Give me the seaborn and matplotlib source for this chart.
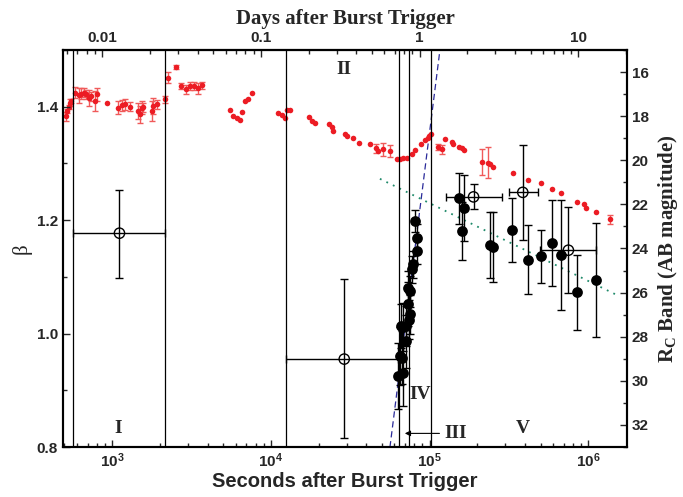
import numpy as np
import matplotlib
matplotlib.use('Agg')
import matplotlib.pyplot as plt
import matplotlib.ticker as mticker
import seaborn as sns

# Curva de luz en banda Rc (eje derecho, magnitudes AB)
red_t = [513, 519, 531, 544, 552, 585, 614, 636, 660, 686, 710, 735, 782, 808, 926,
         1096, 1151, 1208, 1298, 1465, 1500, 1538, 1574, 1778, 1820, 1911, 2158,
         2262, 2529, 2719, 2911, 3097, 3282, 3493, 3700,
         5534, 5800, 6095, 6393, 6551, 6871, 7210, 7572,
         11140, 11700, 12280, 12690, 13190,
         17450, 18070, 18970, 23230, 24150, 24720, 29270, 30270, 33030, 35850,
         42070, 45700, 47470, 50980, 56190, 61940, 64940, 68120, 71590, 76930,
         80740, 87670, 93330, 97040, 99340, 101800,
         113000, 118800, 124700, 137400, 139400, 153400, 158800, 164200, 212200,
         233600, 239300, 251100, 332600, 417100, 506100, 593400, 675800, 847700,
         933800, 971100, 1111000, 1375000]
red_mag = [18.00, 17.77, 17.59, 17.39, 17.32, 16.94, 17.06, 16.98, 16.94, 17.01, 17.17, 17.09, 17.32, 17.01, 17.42,
           17.62, 17.51, 17.46, 17.57, 17.77, 17.92, 17.62, 17.59, 17.77, 17.54, 17.46, 17.24,
           16.26, 15.77, 16.63, 16.78, 16.63, 16.63, 16.74, 16.60,
           17.74, 18.00, 18.07, 18.19, 17.81, 17.32, 17.21, 16.97,
           17.85, 17.95, 18.07, 17.74, 17.74,
           18.04, 18.22, 18.33, 18.34, 18.49, 18.68, 18.80, 18.90, 18.98, 19.21,
           19.28, 19.46, 19.58, 19.51, 19.58, 19.93, 19.93, 19.91, 19.89, 19.73,
           19.55, 19.28, 19.10, 18.98, 18.90, 18.81,
           19.40, 19.51, 19.05, 19.16, 19.25, 19.40, 19.46, 19.54, 20.07,
           20.11, 20.19, 20.31, 20.57, 20.91, 21.02, 21.32, 21.50, 21.88,
           22.00, 22.15, 22.34, 22.68]
red_err = [0.2, 0.1, 0.1, 0.15, 0.1, 0.25, 0.35, 0.25, 0.2, 0.2, 0.35, 0.2, 0.45, 0.3, 0.0,
           0.3, 0.25, 0.25, 0.2, 0.35, 0.4, 0.3, 0.2, 0.45, 0.35, 0.2, 0.15,
           0.25, 0.1, 0.15, 0.2, 0.2, 0.2, 0.25, 0.15,
           0, 0, 0, 0, 0, 0, 0, 0,
           0, 0, 0, 0, 0,
           0, 0, 0, 0, 0, 0, 0, 0, 0, 0,
           0, 0.2, 0, 0.3, 0.25, 0, 0, 0, 0, 0,
           0, 0, 0, 0, 0, 0,
           0.15, 0.2, 0, 0, 0, 0, 0, 0, 0.58,
           0.7, 0, 0, 0, 0, 0, 0, 0, 0,
           0, 0, 0, 0.2]

# Puntos negros (eje derecho)
blk_t = [63400, 64900, 65900, 66500, 68100, 68100, 70500, 70500, 73300, 73300, 74000,
         75100, 75100, 77600, 78700, 80700, 82740, 83400,
         153000, 159000, 165000, 239000, 251000, 331000, 417000, 506000, 593000,
         672000, 848000, 1110000]
blk_mag = [29.79, 28.88, 27.52, 28.96, 27.56, 29.64, 27.52, 28.21, 25.81, 26.52, 27.22,
           25.93, 26.99, 24.95, 24.72, 22.76, 23.51, 24.12,
           21.73, 23.21, 22.15, 23.85, 23.94, 23.15, 24.50, 24.36, 23.76,
           24.29, 25.99, 25.43]
blk_err = [1.5, 1.3, 1.0, 1.2, 1.1, 1.5, 0.9, 1.2, 0.8, 1.0, 0.9,
           0.7, 0.9, 0.6, 0.6, 0.5, 0.6, 0.6,
           1.15, 1.3, 1.5, 1.5, 1.6, 1.45, 1.55, 1.2, 1.95,
           2.5, 1.7, 2.6]

# Índice espectral beta (eje izquierdo)
open_t = [1112, 28970, 189000, 386000, 748000]
open_beta = [1.177, 0.955, 1.241, 1.249, 1.147]
open_tlo = [566, 12400, 126000, 314000, 494000]
open_thi = [2158, 63100, 285000, 478000, 1120000]
open_blo = [1.098, 0.815, 1.219, 1.165, 1.071]
open_bhi = [1.254, 1.096, 1.264, 1.332, 1.223]

# Límites de las fases y ajustes en ley de potencias
boundaries = [569, 2160, 12360, 63900, 74000, 101600]
steep_t0, steep_m0, steep_slope = 94900, 20.0, -57.2
steep_range = (56200, 116000)
decay_t0, decay_m0, decay_slope = 48600, 20.84, 3.53
decay_range = (48600, 1.48e6)

sns.set_theme(style='ticks')
plt.rcParams['font.family'] = ['Liberation Sans', 'DejaVu Sans']
plt.rcParams['font.weight'] = 'bold'
plt.rcParams['mathtext.fontset'] = 'custom'
plt.rcParams['mathtext.sf'] = 'Liberation Sans:bold'
plt.rcParams['mathtext.bf'] = 'Liberation Serif:bold'
plt.rcParams['mathtext.rm'] = 'Liberation Serif'
serif = ['Liberation Serif', 'DejaVu Serif']

fig = plt.figure(figsize=(6.83, 4.97), dpi=100)
ax = fig.add_axes([0.0922, 0.1006, 0.8258, 0.7988])
ax2 = ax.twinx()

ax.set_xscale('log')
ax.set_xlim(490, 1.75e6)
ax.set_ylim(0.8, 1.5)
ax2.set_ylim(33, 15)

for b in boundaries:
    ax.axvline(b, color='black', lw=0.9, zorder=1)

# ajustes
tt = np.logspace(np.log10(steep_range[0]), np.log10(steep_range[1]), 50)
ax2.plot(tt, steep_m0 + steep_slope * np.log10(tt / steep_t0), ls=(0, (5, 3)), color='#2a2a9a', lw=0.9, zorder=2)
tt = np.logspace(np.log10(decay_range[0]), np.log10(decay_range[1]), 50)
ax2.plot(tt, decay_m0 + decay_slope * np.log10(tt / decay_t0), ls=(0, (1, 3)), color='#1f8a6a', lw=1.3, zorder=2)

# curva roja
rt = np.array(red_t); rm = np.array(red_mag); re = np.array(red_err)
m = re > 0
ax2.errorbar(rt[m], rm[m], yerr=re[m], fmt='none', ecolor='#f05a5a', elinewidth=1, capsize=2, capthick=1, zorder=3)
sns.scatterplot(x=red_t, y=red_mag, ax=ax2, color='#ec1c24', s=16, linewidth=0, zorder=4, legend=False)

# puntos negros
ax2.errorbar(blk_t, blk_mag, yerr=blk_err, fmt='none', ecolor='black', elinewidth=1, capsize=3, capthick=1, zorder=5)
sns.scatterplot(x=blk_t, y=blk_mag, ax=ax2, color='black', s=60, linewidth=0, zorder=6, legend=False)

# beta
ot = np.array(open_t); ob = np.array(open_beta)
xerr = [ot - np.array(open_tlo), np.array(open_thi) - ot]
yerr = [ob - np.array(open_blo), np.array(open_bhi) - ob]
ax.errorbar(ot, ob, xerr=xerr, yerr=yerr, fmt='none', ecolor='black', elinewidth=1, capsize=3, capthick=1, zorder=5)
sns.scatterplot(x=open_t, y=open_beta, ax=ax, s=55, facecolor='none', edgecolor='black', linewidth=1, zorder=6, legend=False)
ax.set_zorder(ax2.get_zorder() + 1)
ax.patch.set_visible(False)

# etiquetas de fases
lab = dict(fontfamily=serif, fontweight='bold', fontsize=14, ha='center', va='center')
ax.text(1087, 0.833, 'I', **lab)
ax.text(28800, 1.465, 'II', **lab)
ax.text(86700, 0.892, 'IV', **lab)
ax.text(3.85e5, 0.832, 'V', **lab)
ax.text(1.23e5, 0.824, 'III', **{**lab, 'ha': 'left'})
ax.annotate('', xy=(67000, 0.824), xytext=(1.2e5, 0.824),
            arrowprops=dict(arrowstyle='-|>', color='black', lw=0.8, mutation_scale=8))

# ejes
ax.xaxis.set_major_locator(mticker.LogLocator(base=10))
ax.xaxis.set_minor_locator(mticker.LogLocator(base=10, subs=np.arange(2, 10)))
ax.xaxis.set_minor_formatter(mticker.NullFormatter())
ax.xaxis.set_major_formatter(mticker.FuncFormatter(lambda v, p: r'$\mathsf{10^{%d}}$' % round(np.log10(v))))
ax.yaxis.set_major_locator(mticker.FixedLocator([0.8, 1.0, 1.2, 1.4]))
ax.yaxis.set_minor_locator(mticker.FixedLocator([0.9, 1.1, 1.3, 1.5]))
ax.yaxis.set_major_formatter(mticker.FormatStrFormatter('%.1f'))
ax2.yaxis.set_major_locator(mticker.MultipleLocator(2))
ax2.yaxis.set_minor_locator(mticker.MultipleLocator(1))

ax.tick_params(which='both', direction='in', top=False, right=False, labelsize=11, width=1)
ax.tick_params(which='major', length=5)
ax.tick_params(which='minor', length=3)
ax2.tick_params(which='both', direction='in', labelsize=11, width=1)
ax2.tick_params(which='major', length=5)
ax2.tick_params(which='minor', length=3)
for a in (ax, ax2):
    for s in a.spines.values():
        s.set_linewidth(1.5)
        s.set_color('black')

sec = ax.secondary_xaxis('top', functions=(lambda x: x / 86400.0, lambda x: x * 86400.0))
sec.xaxis.set_major_locator(mticker.FixedLocator([0.01, 0.1, 1, 10]))
sec.xaxis.set_major_formatter(mticker.FuncFormatter(lambda v, p: f'{v:g}'))
sec.xaxis.set_minor_locator(mticker.LogLocator(base=10, subs=np.arange(2, 10)))
sec.xaxis.set_minor_formatter(mticker.NullFormatter())
sec.tick_params(which='both', direction='in', labelsize=11, width=1)
sec.tick_params(which='major', length=5)
sec.tick_params(which='minor', length=3)
sec.spines['top'].set_linewidth(1.5)
sec.set_xlabel('Days after Burst Trigger', fontfamily=serif, fontweight='bold', fontsize=15, labelpad=5)

ax.set_xlabel('Seconds after Burst Trigger', fontsize=14.5, fontweight='bold', labelpad=1)
ax.set_ylabel('β', fontfamily=serif, fontweight='normal', fontsize=15, labelpad=4)
ax2.set_ylabel(r'R$_\mathbf{C}$ Band (AB magnitude)', fontfamily=serif, fontweight='bold', fontsize=15, labelpad=5)

fig.savefig('out.png', dpi=100)
